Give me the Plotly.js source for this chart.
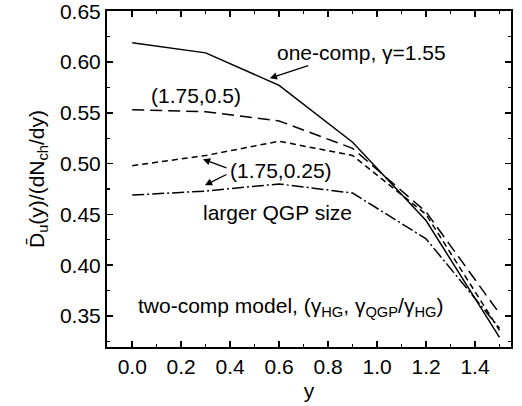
<!DOCTYPE html>
<html>
<head>
<meta charset="utf-8">
<script src="https://cdn.plot.ly/plotly-3.0.1.min.js"></script>
<style>html,body{margin:0;padding:0;background:#fff;}#chart{width:522px;height:406px;}</style>
</head>
<body>
<div id="chart"></div>
<script>
// rapidity values
const rapidity = [0.0, 0.3, 0.6, 0.9, 1.2, 1.5];
// one-comp, gamma=1.55
const oneComp = [0.619, 0.609, 0.577, 0.521, 0.444, 0.329];
// two-comp (1.75, 0.5)
const twoComp05 = [0.553, 0.551, 0.542, 0.515, 0.4525, 0.3525];
// two-comp (1.75, 0.25)
const twoComp025 = [0.498, 0.508, 0.522, 0.508, 0.450, 0.336];
// larger QGP size
const largerQGP = [0.469, 0.473, 0.480, 0.471, 0.426, 0.338];

const FONT = 'Liberation Sans, Arial, Helvetica, sans-serif';
const line = (y, dash) => ({
  x: rapidity, y: y, type: 'scatter', mode: 'lines',
  line: {color: '#000', width: 1.5, dash: dash},
  hoverinfo: 'skip', showlegend: false
});

const traces = [
  line(oneComp, 'solid'),
  line(twoComp05, '12px,6px'),
  line(twoComp025, '6px,4px'),
  line(largerQGP, '12px,3px,2px,3px')
];

const axisCommon = {
  showgrid: false, zeroline: false, showline: true, linecolor: '#000', linewidth: 2,
  ticks: 'inside', ticklen: 6, tickwidth: 1.5, tickcolor: '#000', mirror: 'ticks',
  ticklabeloverflow: 'allow',
  tickfont: {family: FONT, size: 21, color: '#000'}
};

const annFont = {family: FONT, size: 21, color: '#000'};
const arrow = (x, y, ax, ay) => ({
  x: x, y: y, ax: ax, ay: ay, xref: 'x', yref: 'y', axref: 'x', ayref: 'y',
  text: '', showarrow: true, arrowhead: 2, arrowsize: 1.1, arrowwidth: 1.3, arrowcolor: '#000'
});
const label = (x, y, text) => ({
  x: x, y: y, xref: 'x', yref: 'y', text: text, showarrow: false,
  xanchor: 'center', yanchor: 'middle', font: annFont
});

const layout = {
  width: 522, height: 406,
  margin: {l: 107, r: 11, t: 11, b: 59},
  paper_bgcolor: '#fff', plot_bgcolor: '#fff',
  xaxis: Object.assign({}, axisCommon, {
    range: [-0.103, 1.547], tickmode: 'linear', tick0: 0, dtick: 0.2, tickformat: '.1f',
    minor: {dtick: 0.1, ticklen: 3, tickwidth: 1.2, tickcolor: '#000', ticks: 'inside'},
    title: {text: 'y', font: {family: FONT, size: 21, color: '#000'}, standoff: 6}
  }),
  yaxis: Object.assign({}, axisCommon, {
    range: [0.3195, 0.6502], tickmode: 'linear', tick0: 0.35, dtick: 0.05, tickformat: '.2f',
    minor: {dtick: 0.025, ticklen: 3, tickwidth: 1.2, tickcolor: '#000', ticks: 'inside'},
    title: {text: 'D\u0304<sub>u</sub>(y)/(dN<sub>ch</sub>/dy)', font: {family: FONT, size: 21, color: '#000'}, standoff: 10}
  }),
  annotations: [
    label(0.935, 0.6096, 'one-comp, \u03b3=1.55'),
    label(0.26, 0.567, '(1.75,0.5)'),
    label(0.609, 0.4935, '(1.75,0.25)'),
    label(0.593, 0.452, 'larger QGP size'),
    label(0.645, 0.359, 'two-comp model, (\u03b3<sub>HG</sub>, \u03b3<sub>QGP</sub>/\u03b3<sub>HG</sub>)'),
    arrow(0.562, 0.584, 0.725, 0.597),
    arrow(0.289, 0.5043, 0.391, 0.4952),
    arrow(0.297, 0.4787, 0.391, 0.490)
  ]
};

Plotly.newPlot('chart', traces, layout, {displayModeBar: false, staticPlot: true});
</script>
</body>
</html>
